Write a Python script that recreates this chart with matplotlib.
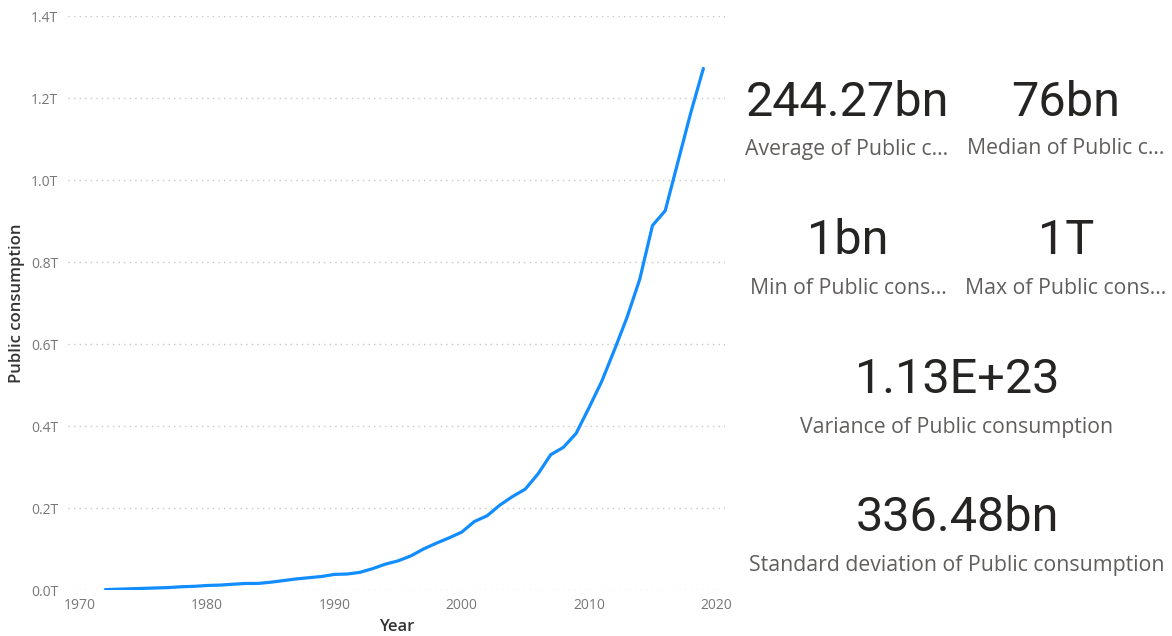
import matplotlib
matplotlib.use("Agg")
import matplotlib.pyplot as plt
from matplotlib.ticker import FuncFormatter

# ---- data ----
years = list(range(1972, 2020))
public_consumption_bn = [
    1, 2, 3, 4, 5, 6, 8, 9, 11, 12, 14, 16, 16, 19, 23, 27, 30, 33,
    38, 39, 43, 52, 63, 71, 83, 100, 114, 127,
    141, 167, 181, 207, 228, 246, 283, 330, 348, 382,
    444, 508, 585, 665, 758, 889, 925, 1044, 1163, 1272,
]
card_values = ["244.27bn", "76bn", "1bn", "1T", "1.13E+23", "336.48bn"]
card_labels = ["Average of Public c...", "Median of Public c...",
               "Min of Public cons...", "Max of Public cons...",
               "Variance of Public consumption",
               "Standard deviation of Public consumption"]
y_ticks_T = [0.0, 0.2, 0.4, 0.6, 0.8, 1.0, 1.2, 1.4]
x_ticks = [1970, 1980, 1990, 2000, 2010, 2020]

W, H = 1172, 636
fig = plt.figure(figsize=(W / 100, H / 100), dpi=100)
fig.patch.set_facecolor("white")

def fx(px):
    return px / W

def fy(py):
    return 1 - py / H

left, right, top, bottom = 68, 725, 16, 590
ax = fig.add_axes([fx(left), fy(bottom), (right - left) / W, (bottom - top) / H])

vals = [v * 1e9 for v in public_consumption_bn]
ax.plot(years, vals, color="#118DFF", linewidth=2.3, solid_capstyle="round",
        solid_joinstyle="round", zorder=3)

ax.set_xlim(1969.06, 2020.7)
ax.set_ylim(0, 1.4e12)
ax.set_yticks([t * 1e12 for t in y_ticks_T])
ax.set_xticks(x_ticks)
ax.yaxis.set_major_formatter(FuncFormatter(lambda v, p: f"{v / 1e12:.1f}T"))

for s in ax.spines.values():
    s.set_visible(False)
ax.grid(axis="y", linestyle=(0, (1, 3)), color="#c8c8c8", linewidth=1.0, zorder=0)
ax.grid(axis="x", visible=False)
ax.tick_params(axis="both", length=0, labelsize=10, labelcolor="#777777")
ax.tick_params(axis="y", pad=7)
ax.tick_params(axis="x", pad=6)
for lab in ax.get_xticklabels() + ax.get_yticklabels():
    lab.set_family("Open Sans")

ax.set_ylabel("Public consumption", fontsize=12, color="#333333",
              family="Open Sans", weight="semibold", va="center")
ax.yaxis.set_label_coords((17 - left) / (right - left), 0.5)
ax.set_xlabel("Year", fontsize=12, color="#333333", family="Open Sans",
              weight="semibold", va="center")
ax.xaxis.set_label_coords(0.5, (bottom - 627) / (bottom - top))

# ---- cards ----
card_pos = [(847, 103, 149), (1066, 103, 149),
            (848, 241, 288), (1066, 241, 288),
            (957, 380, 427), (957, 518, 566)]
for (cx, vy, ly), val, lab in zip(card_pos, card_values, card_labels):
    fig.text(fx(cx), fy(vy), val, ha="center", va="center",
             fontsize=35, color="#252423", family="Roboto")
    fig.text(fx(cx), fy(ly), lab, ha="center", va="center",
             fontsize=15.3, color="#605E5C", family="Open Sans")

fig.savefig("out.png", dpi=100, facecolor="white")
